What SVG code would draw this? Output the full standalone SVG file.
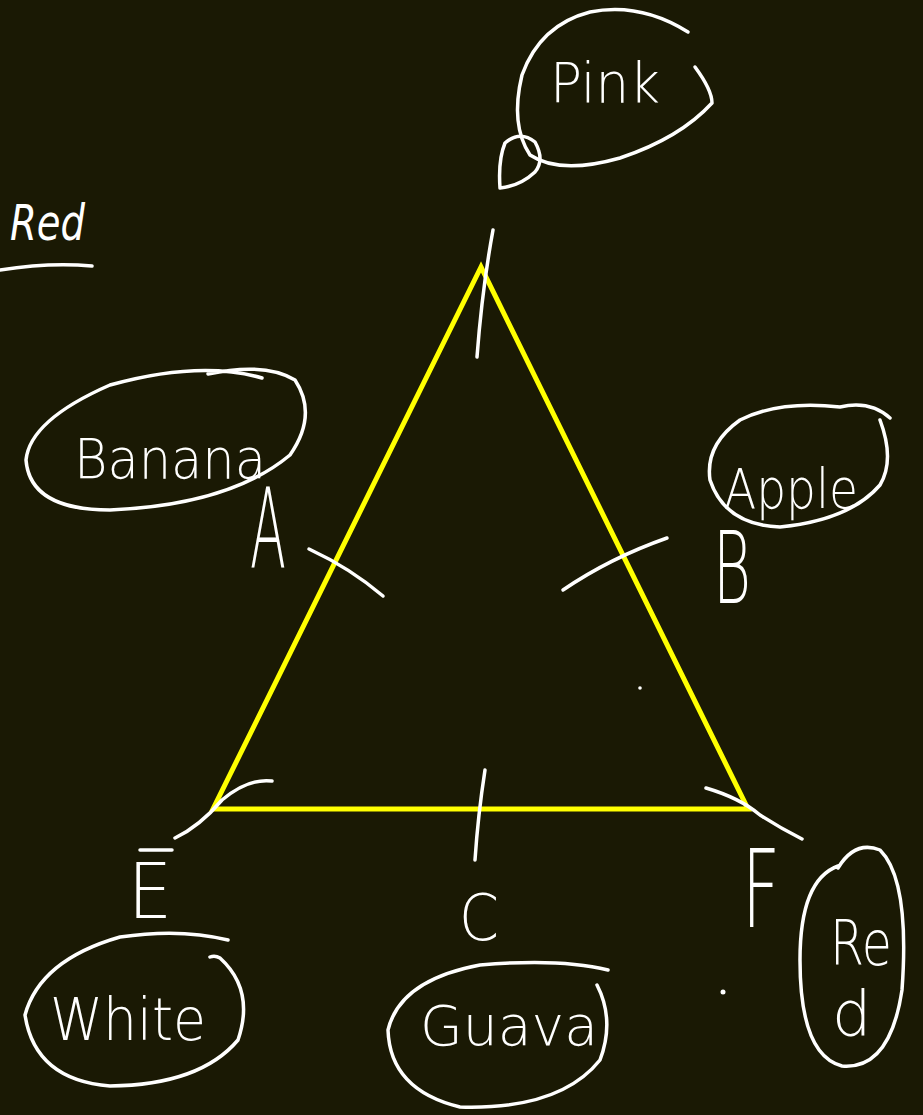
<svg xmlns="http://www.w3.org/2000/svg" width="923" height="1115" viewBox="0 0 923 1115">
<style>
.ink{fill:none;stroke:#ffffff;stroke-width:3.5;stroke-linecap:round;stroke-linejoin:round}
.tri{fill:none;stroke:#ffff00;stroke-width:5;stroke-linejoin:miter}
.t{fill:#ffffff;font-family:"DejaVu Sans","Liberation Sans",sans-serif;font-weight:200}
.dot{fill:#ffffff}
</style>
<rect width="923" height="1115" fill="#1a1904"/>
<g id="triangle">
<path class="tri" d="M481,267 L213,809 L748,809 Z"/>
</g>
<g id="connectors">
<path class="ink" d="M493,230 Q482,290 477,357"/>
<path class="ink" d="M175,838 Q200,826 222,800 Q248,778 272,781"/>
<path class="ink" d="M706,788 Q740,798 760,815 Q780,828 802,839"/>
<path class="ink" d="M485,770 Q478,815 475,860"/>
<path class="ink" d="M309,549 Q350,568 383,596"/>
<path class="ink" d="M563,590 Q610,558 667,538"/>
<circle class="dot" cx="640" cy="688" r="1.8"/>
<circle class="dot" cx="723" cy="992" r="2.5"/>
</g>
<g id="red-title">
<text class="t" x="10" y="240" font-size="50" font-style="italic" textLength="75" lengthAdjust="spacingAndGlyphs">Red</text>
<path class="ink" d="M0,270 Q50,262 92,266"/>
</g>
<g id="pink">
<path class="ink" d="M688,32 Q640,2 590,12 Q540,25 522,75 Q510,125 530,155 Q560,175 620,158 Q680,138 712,103 Q712,90 695,67"/>
<path class="ink" d="M500,188 Q498,160 505,143 Q520,130 535,142 Q545,160 535,172 Q520,186 500,188"/>
<text class="t" x="550" y="102" font-size="56" textLength="110" lengthAdjust="spacingAndGlyphs">Pink</text>
</g>
<g id="banana">
<path class="ink" d="M262,378 Q200,360 110,385 Q30,420 26,460 Q30,510 110,510 Q230,505 290,455 Q318,415 295,380 Q265,362 208,374"/>
<text class="t" x="74" y="478" font-size="56" textLength="192" lengthAdjust="spacingAndGlyphs">Banana</text>
</g>
<g id="label-A">
<text class="t" x="250" y="567" font-size="110" textLength="36" lengthAdjust="spacingAndGlyphs">A</text>
</g>
<g id="apple">
<path class="ink" d="M890,418 Q870,400 840,407 Q780,400 740,420 Q705,445 710,480 Q725,525 780,527 Q850,520 880,485 Q895,460 880,420"/>
<text class="t" x="724" y="508" font-size="56" textLength="134" lengthAdjust="spacingAndGlyphs">Apple</text>
</g>
<g id="label-B">
<text class="t" x="713" y="603" font-size="100" textLength="38" lengthAdjust="spacingAndGlyphs">B</text>
</g>
<g id="label-E">
<path class="ink" d="M140,850 L172,850"/>
<text class="t" x="128" y="918" font-size="76" textLength="44" lengthAdjust="spacingAndGlyphs">E</text>
</g>
<g id="white">
<path class="ink" d="M228,940 Q180,928 120,937 Q40,960 25,1015 Q35,1080 110,1086 Q200,1085 238,1040 Q255,990 220,958 Q215,955 210,957"/>
<text class="t" x="50" y="1040" font-size="58" textLength="156" lengthAdjust="spacingAndGlyphs">White</text>
</g>
<g id="label-C">
<text class="t" x="459" y="940" font-size="64" textLength="40" lengthAdjust="spacingAndGlyphs">C</text>
</g>
<g id="guava">
<path class="ink" d="M608,970 Q560,958 480,965 Q400,980 388,1030 Q390,1090 460,1107 Q560,1110 600,1060 Q615,1020 597,985"/>
<text class="t" x="420" y="1045" font-size="56" textLength="178" lengthAdjust="spacingAndGlyphs">Guava</text>
</g>
<g id="label-F">
<text class="t" x="742" y="927" font-size="108" textLength="38" lengthAdjust="spacingAndGlyphs">F</text>
</g>
<g id="red-oval">
<path class="ink" d="M838,866 Q800,880 800,960 Q800,1055 842,1066 Q890,1070 902,990 Q910,880 880,850 Q855,840 838,868"/>
<text class="t" x="830" y="965" font-size="62" textLength="62" lengthAdjust="spacingAndGlyphs">Re</text>
<text class="t" x="832" y="1035" font-size="62">d</text>
</g>
</svg>
